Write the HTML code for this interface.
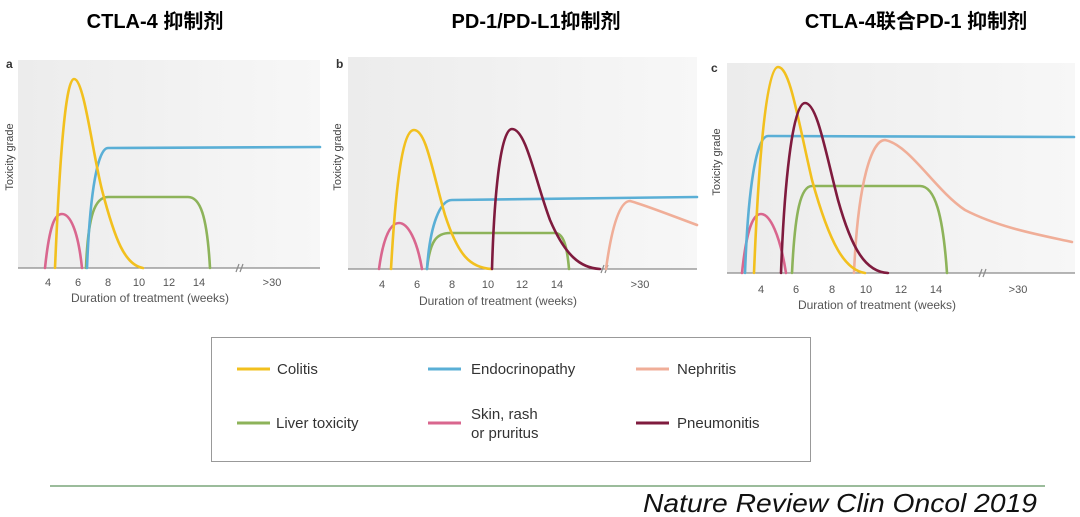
<!DOCTYPE html>
<html><head><meta charset="utf-8"><style>
html,body{margin:0;padding:0;background:#fff;}
svg{display:block;}
text{font-family:"Liberation Sans","Noto Sans CJK SC",sans-serif;}
</style></head><body>
<svg width="1080" height="517" viewBox="0 0 1080 517" xmlns="http://www.w3.org/2000/svg">
<defs>
<linearGradient id="bg" x1="0" y1="0" x2="1" y2="0">
<stop offset="0" stop-color="#ececec"/><stop offset="1" stop-color="#f7f7f7"/>
</linearGradient>
</defs>
<!-- titles -->
<text x="155" y="28" font-size="20" font-weight="bold" text-anchor="middle">CTLA-4 抑制剂</text>
<text x="536" y="28" font-size="20" font-weight="bold" text-anchor="middle">PD-1/PD-L1抑制剂</text>
<text x="916" y="28" font-size="20" font-weight="bold" text-anchor="middle">CTLA-4联合PD-1 抑制剂</text>

<!-- panel backgrounds -->
<rect x="18" y="60" width="302" height="208" fill="url(#bg)"/>
<rect x="348" y="57" width="349" height="212" fill="url(#bg)"/>
<rect x="727" y="63" width="348" height="210" fill="url(#bg)"/>

<g font-size="12" fill="#333">
<text x="6" y="68" font-weight="bold" font-size="12">a</text>
<text x="336" y="68" font-weight="bold" font-size="12">b</text>
<text x="711" y="72" font-weight="bold" font-size="12">c</text>
</g>
<g font-size="11" fill="#444">
<text transform="translate(13,157) rotate(-90)" text-anchor="middle">Toxicity grade</text>
<text transform="translate(341,157) rotate(-90)" text-anchor="middle">Toxicity grade</text>
<text transform="translate(720,162) rotate(-90)" text-anchor="middle">Toxicity grade</text>
</g>

<!-- axes -->
<g stroke="#8a8a8a" stroke-width="1.2" fill="none">
<line x1="18" y1="268" x2="320" y2="268"/>
<line x1="348" y1="269" x2="697" y2="269"/>
<line x1="727" y1="273" x2="1075" y2="273"/>
<path d="M236,272 L239,264 M240,272 L243,264"/>
<path d="M601,273 L604,265 M605,273 L608,265"/>
<path d="M979,277 L982,269 M983,277 L986,269"/>
</g>
<g font-size="11" fill="#555" text-anchor="middle" font-family="Liberation Sans Narrow, Liberation Sans, sans-serif">
<text x="48" y="286">4</text><text x="78" y="286">6</text><text x="108" y="286">8</text><text x="139" y="286">10</text><text x="169" y="286">12</text><text x="199" y="286">14</text><text x="272" y="286">&gt;30</text>
<text x="150" y="302" font-size="12">Duration of treatment (weeks)</text>
<text x="382" y="288">4</text><text x="417" y="288">6</text><text x="452" y="288">8</text><text x="488" y="288">10</text><text x="522" y="288">12</text><text x="557" y="288">14</text><text x="640" y="288">&gt;30</text>
<text x="498" y="305" font-size="12">Duration of treatment (weeks)</text>
<text x="761" y="293">4</text><text x="796" y="293">6</text><text x="832" y="293">8</text><text x="866" y="293">10</text><text x="901" y="293">12</text><text x="936" y="293">14</text><text x="1018" y="293">&gt;30</text>
<text x="877" y="309" font-size="12">Duration of treatment (weeks)</text>
</g>

<g fill="none" stroke-width="2.6" stroke-linecap="round">
<!-- panel a -->
<path stroke="#d9668e" d="M45,268 C50,220 56,214 62,214 C70,214 78,230 82,268"/>
<path stroke="#8db35a" d="M86,268 C88,215 95,197 108,197 L188,197 C200,197 207,215 210,268"/>
<path stroke="#5aafd6" d="M87,268 C90,190 98,148 108,148 L320,147"/>
<path stroke="#f2c01e" d="M55,268 C60,150 66,79 74,79 C84,79 92,150 102,190 C115,240 125,265 143,268"/>
<!-- panel b -->
<path stroke="#d9668e" d="M379,269 C384,232 392,223 399,223 C408,223 417,240 422,269"/>
<path stroke="#8db35a" d="M427,269 C430,240 437,233 450,233 L555,233 C563,233 567,245 569,269"/>
<path stroke="#5aafd6" d="M427,269 C430,225 440,200 452,200 L697,197"/>
<path stroke="#f2c01e" d="M391,269 C396,180 403,130 414,130 C426,130 432,170 445,215 C458,255 470,268 492,269"/>
<path stroke="#7f1b3e" d="M492,269 C494,200 500,129 512,129 C526,129 535,180 550,220 C565,255 580,268 600,269"/>
<path stroke="#f0ae98" d="M606,269 C612,225 620,201 630,201 C645,205 670,215 697,225"/>
<!-- panel c -->
<path stroke="#d9668e" d="M742,273 C747,225 754,214 761,214 C770,214 780,235 786,273"/>
<path stroke="#8db35a" d="M792,273 C795,210 801,186 812,186 L920,186 C935,186 943,215 947,273"/>
<path stroke="#5aafd6" d="M745,273 C748,190 756,136 768,136 L1074,137"/>
<path stroke="#f0ae98" d="M854,273 C858,180 872,140 885,140 C910,145 935,190 965,210 C1000,228 1040,235 1072,242"/>
<path stroke="#f2c01e" d="M754,273 C759,150 767,67 778,67 C790,67 798,120 812,180 C830,245 845,270 865,273"/>
<path stroke="#7f1b3e" d="M781,273 C784,190 792,103 805,103 C817,103 825,150 838,200 C852,250 866,272 888,273"/>
</g>

<!-- legend -->
<rect x="211.5" y="337.5" width="599" height="124" fill="#fff" stroke="#999" stroke-width="1"/>
<g stroke-width="3">
<line x1="237" y1="369" x2="270" y2="369" stroke="#f2c01e"/>
<line x1="428" y1="369" x2="461" y2="369" stroke="#5aafd6"/>
<line x1="636" y1="369" x2="669" y2="369" stroke="#f0ae98"/>
<line x1="237" y1="423" x2="270" y2="423" stroke="#8db35a"/>
<line x1="428" y1="423" x2="461" y2="423" stroke="#d9668e"/>
<line x1="636" y1="423" x2="669" y2="423" stroke="#7f1b3e"/>
</g>
<g font-size="15" fill="#333">
<text x="277" y="374">Colitis</text>
<text x="471" y="374">Endocrinopathy</text>
<text x="677" y="374">Nephritis</text>
<text x="276" y="428">Liver toxicity</text>
<text x="471" y="419">Skin, rash</text>
<text x="471" y="438">or pruritus</text>
<text x="677" y="428">Pneumonitis</text>
</g>

<!-- footer -->
<line x1="50" y1="486" x2="1045" y2="486" stroke="#7aa67a" stroke-width="1.5"/>
<text x="1037" y="512" font-size="26" font-style="italic" text-anchor="end" textLength="394" lengthAdjust="spacingAndGlyphs" fill="#111">Nature Review Clin Oncol 2019</text>
</svg>
</body></html>
